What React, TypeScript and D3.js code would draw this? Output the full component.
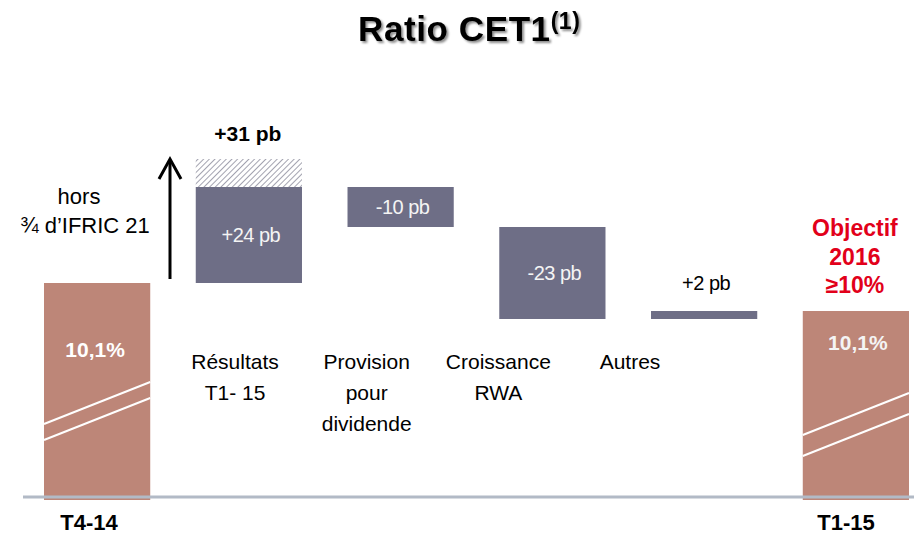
import React from "react";
import * as d3 from "d3";

const categories = ["T4-14", "Résultats T1- 15", "Provision pour dividende", "Croissance RWA", "Autres", "T1-15"];
const categoryLines = [["Résultats", "T1- 15"], ["Provision", "pour", "dividende"], ["Croissance", "RWA"], ["Autres"]];
const endLabels = ["T4-14", "T1-15"];
const changes = [24, -10, -23, 2];
const changeLabels = ["+24 pb", "-10 pb", "-23 pb", "+2 pb"];
const hatchExtra = 7;
const hatchLabel = "+31 pb";
const ratioLabels = ["10,1%", "10,1%"];
const objectifLines = ["Objectif", "2016", "≥10%"];
const noteLines = ["hors", "¾ d’IFRIC 21"];

const W = 914;
const H = 536;
const BROWN = "#bd8678";
const SLATE = "#6e6e86";
const FONT = "'Liberation Sans', Arial, sans-serif";

export default function App() {
  const x = d3.scaleBand<string>().domain(categories).range([44, 909]).paddingInner(0.3).paddingOuter(0);
  const y = d3.scaleLinear().domain([-54.25, 31]).range([500, 159]);
  const bw = x.bandwidth();
  const labelX = d3.scalePoint<number>().domain([0, 1, 2, 3]).range([235, 630]);

  const steps: { from: number; to: number }[] = [];
  let cum = 0;
  changes.forEach((c) => {
    steps.push({ from: cum, to: cum + c });
    cum += c;
  });
  const endValue = cum;
  const bottom = y.domain()[0];

  const startX = x(categories[0])!;
  const endX = x(categories[5])!;

  const breakLines = (bx: number, y1: number, rise: number, gap: number) => (
    <g stroke="#ffffff" strokeWidth={2}>
      <line x1={bx} y1={y1} x2={bx + bw} y2={y1 - rise} />
      <line x1={bx} y1={y1 + gap} x2={bx + bw} y2={y1 + gap - rise} />
    </g>
  );

  return (
    <svg width={W} height={H} style={{ position: "absolute", left: 0, top: 0, background: "#fff" }} fontFamily={FONT}>
      <defs>
        <pattern id="hatch" width="4" height="4" patternUnits="userSpaceOnUse" patternTransform="rotate(45)">
          <rect width="4" height="4" fill="#ffffff" />
          <line x1="0" y1="0" x2="0" y2="4" stroke="#8c8c9c" strokeWidth="1.6" />
        </pattern>
        <filter id="shadow" x="-10%" y="-30%" width="130%" height="160%">
          <feDropShadow dx="2" dy="2" stdDeviation="1.2" floodColor="#000" floodOpacity="0.45" />
        </filter>
      </defs>

      <text x={358} y={41} fontSize={35} fontWeight="bold" fill="#000" filter="url(#shadow)" letterSpacing={0.6}>
        Ratio CET1
        <tspan fontSize={23} dy={-12} letterSpacing={0.5}>(1)</tspan>
      </text>

      <rect x={startX} y={y(0)} width={bw} height={y(bottom) - y(0)} fill={BROWN} />
      {breakLines(startX, 424, 42, 16)}
      <text x={startX + bw / 2 - 2} y={357} textAnchor="middle" fontSize={21} fontWeight="bold" fill="#fff">
        {ratioLabels[0]}
      </text>

      {steps.map((s, i) => {
        const cat = categories[i + 1];
        const bx = x(cat)!;
        const top = y(Math.max(s.from, s.to));
        const bot = y(Math.min(s.from, s.to));
        const h = bot - top;
        const inside = h > 30;
        return (
          <g key={cat}>
            <rect x={bx} y={top} width={bw} height={h} fill={SLATE} />
            <text
              x={bx + bw / 2 + 2}
              y={inside ? (top + bot) / 2 + 7 : top - 21}
              textAnchor="middle"
              fontSize={20}
              fill={inside ? "#f4f4f4" : "#000"}
              letterSpacing={-0.5}
            >
              {changeLabels[i]}
            </text>
            {categoryLines[i].map((ln, j) => (
              <text key={j} x={labelX(i)} y={369 + j * 31} textAnchor="middle" fontSize={21} fill="#000">
                {ln}
              </text>
            ))}
          </g>
        );
      })}

      <rect x={x(categories[1])!} y={y(changes[0] + hatchExtra)} width={bw} height={y(changes[0]) - y(changes[0] + hatchExtra)} fill="url(#hatch)" />
      <text x={x(categories[1])! + bw / 2 - 1} y={141} textAnchor="middle" fontSize={21} fontWeight="bold" fill="#000">
        {hatchLabel}
      </text>

      <g stroke="#000" strokeWidth={3} fill="none">
        <line x1={170} y1={279} x2={170} y2={160} />
        <polyline points="159,179 170,159 181,179" />
      </g>
      {noteLines.map((ln, i) => (
        <text key={i} x={i === 0 ? 79 : 85} y={204 + i * 29} textAnchor="middle" fontSize={22} fill="#000">
          {ln}
        </text>
      ))}

      <rect x={endX} y={y(endValue)} width={bw} height={y(bottom) - y(endValue)} fill={BROWN} />
      {breakLines(endX, 435, 42, 21)}
      <text x={endX + bw / 2 + 2} y={350} textAnchor="middle" fontSize={21} fontWeight="bold" fill="#f4f4f4">
        {ratioLabels[1]}
      </text>
      {objectifLines.map((ln, i) => (
        <text key={i} x={endX + bw / 2 - 1} y={236 + i * 28.5} textAnchor="middle" fontSize={23} fontWeight="bold" fill="#e2001a">
          {ln}
        </text>
      ))}

      <line x1={23} x2={914} y1={y(-53.5)} y2={y(-53.5)} stroke="#b2bac6" strokeWidth={3} />

      <text x={89} y={530} textAnchor="middle" fontSize={22} fontWeight="bold" fill="#000">
        {endLabels[0]}
      </text>
      <text x={846} y={530} textAnchor="middle" fontSize={22} fontWeight="bold" fill="#000">
        {endLabels[1]}
      </text>
    </svg>
  );
}
